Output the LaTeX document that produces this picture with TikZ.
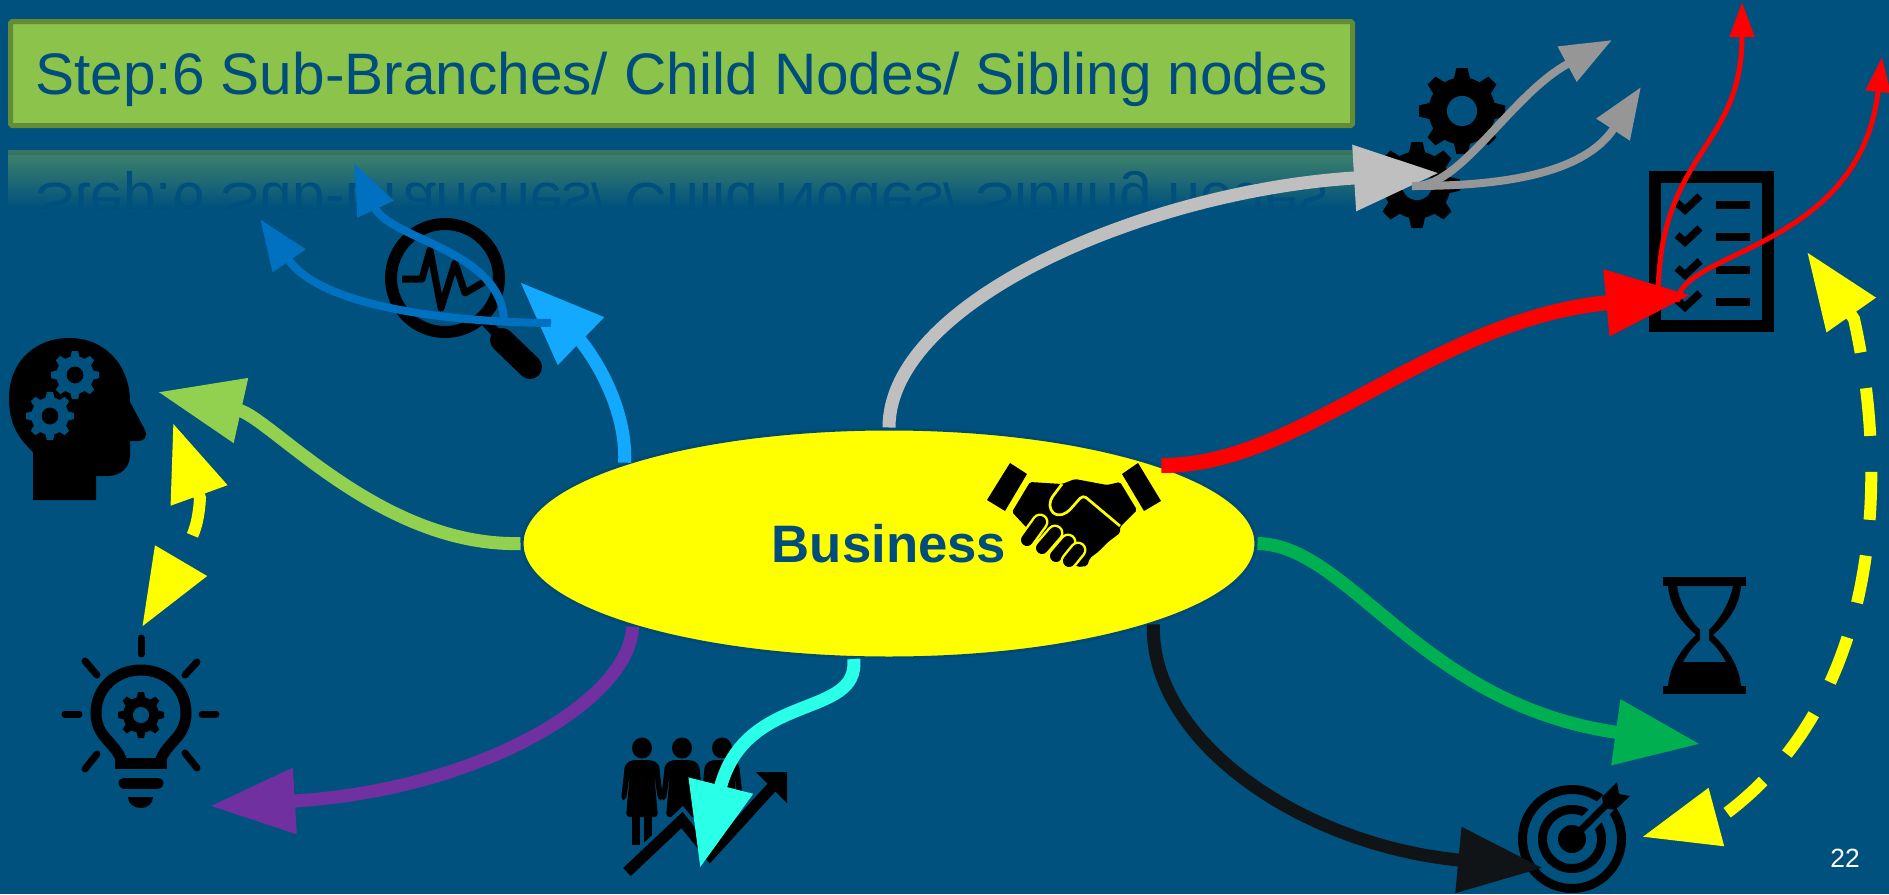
\documentclass[tikz,border=0pt]{standalone}
\usepackage{fontspec}
\setmainfont{Liberation Sans}
\usetikzlibrary{shapes.geometric, arrows.meta, fadings}

\definecolor{slidebg}{HTML}{00517E}
\definecolor{titlefill}{HTML}{8BC34B}
\definecolor{titleedge}{HTML}{648B36}
\definecolor{echofill}{HTML}{42856A}
\definecolor{echoedge}{HTML}{3A7660}
\definecolor{titleink}{HTML}{004C7C}
\definecolor{rimblue}{HTML}{004A78}
\definecolor{topicyellow}{HTML}{FFFF00}
\definecolor{listred}{HTML}{FF0000}
\definecolor{seekblue}{HTML}{12A9FF}
\definecolor{twigblue}{HTML}{0070C0}
\definecolor{mindgreen}{HTML}{92D050}
\definecolor{bulbpurple}{HTML}{7030A0}
\definecolor{teamcyan}{HTML}{2AFFE8}
\definecolor{gearsilver}{HTML}{BFBFBF}
\definecolor{twiggray}{HTML}{969696}
\definecolor{timegreen}{HTML}{00B050}
\definecolor{aimblack}{HTML}{111417}

\tikzset{
  pics/gear/.style n args={2}{code={
    \fill[#1] (0,0) circle (0.78);
    \foreach \a in {0,45,...,315}
      \fill[#1, rotate=\a] (-0.2,0.7) -- (-0.13,1) -- (0.13,1) -- (0.2,0.7) -- cycle;
    \fill[#2] (0,0) circle (0.35);
  }},
  pics/person/.style={code={
    \fill (0,0) ellipse (10 and 10.5);
    \fill[rounded corners=1pt] (-10,12) -- (10,12) -- (17,16) -- (21,52) -- (16,52) -- (12,24) -- (16,69) -- (-16,69) -- (-12,24) -- (-16,52) -- (-21,52) -- (-17,16) -- cycle;
    \fill (-10,69) rectangle (-2,#1);
    \fill (2,69) rectangle (10,#1);
  }},
}

\begin{document}
\begin{tikzpicture}[x=0.1mm, y=-0.1mm]

        % Define styles for each type of node
        \tikzstyle{titlebox} = [rectangle, minimum width=134.2mm, minimum height=10.4mm, inner sep=0pt, text height=11.9pt, text depth=0pt, draw=titleedge, line width=0.5mm, fill=titlefill, text=titleink, font=\fontsize{16.66}{20}\selectfont]
        \tikzstyle{titleecho} = [inner sep=0pt, text height=0pt, text depth=11.9pt, text=titleink, font=\fontsize{16.66}{20}\selectfont]
        \tikzstyle{topic} = [ellipse, minimum width=73.4mm, minimum height=22.9mm, inner sep=0pt, draw=rimblue, line width=0.3mm, fill=topicyellow, text=titleink, font=\fontsize{15}{18}\selectfont\bfseries]
        \tikzstyle{pagemark} = [text=white, font=\fontsize{7.5}{9}\selectfont]

        % Define arrow styles
        \tikzstyle{bigarrow} = [line width=1.3mm, -{Triangle[length=8.5mm,width=6.3mm]}]
        \tikzstyle{subarrow} = [line width=0.8mm, -{Triangle[length=5.1mm,width=3.8mm]}]
        \tikzstyle{twigarrow} = [line width=0.5mm, listred, -{Triangle[length=3.5mm,width=2.4mm]}]
        \tikzstyle{loopbig} = [topicyellow, line width=1.2mm, dash pattern=on 4.8mm off 3.6mm, dash phase=0.6mm, {Triangle[length=7.7mm,width=5.7mm]}-{Triangle[length=7.7mm,width=5.7mm]}]
        \tikzstyle{loopsmall} = [topicyellow, line width=1.2mm, dash pattern=on 4.4mm off 10mm, {Triangle[length=7.7mm,width=5.7mm]}-{Triangle[length=7.7mm,width=5.7mm]}]

        \fill[slidebg] (0,0) rectangle (1889,894);
        \useasboundingbox (0,0) rectangle (1889,894);

        % Title and its reflection
        \node (stepTitle) [titlebox, rounded corners=0.5pt] at (681.5,73.5) {Step:6 Sub-Branches/ Child Nodes/ Sibling nodes};
        \begin{scope}
            \clip (8,150) rectangle (1355,208);
            \fill[echofill] (8,150) rectangle (1355,208);
            \fill[echoedge] (8,150) rectangle (1355,155);
            \node (stepEcho) [titleecho] at (681.5,204) {\scalebox{1}[-1]{Step:6 Sub-Branches/ Child Nodes/ Sibling nodes}};
            \fill[slidebg, path fading=north] (8,150) rectangle (1355,208);
        \end{scope}

        % Central node
        \node (business) [topic] at (889,543.5) {Business};

        % Handshake on the central node
        \fill (1010,463) -- (1027,474) -- (1005,511) -- (987,500) -- cycle;
        \fill (1138,463) -- (1161,501) -- (1144,511) -- (1122,474) -- cycle;
        \fill[rounded corners=0.5pt] (1030,482) -- (1062,484) -- (1075,479) -- (1107,485) -- (1120,482) -- (1137,510) -- (1120,527) -- (1120,533) -- (1108,542) -- (1098,552) -- (1090,558) -- (1087,566) -- (1078,567) -- (1060,555) -- (1040,540) -- (1025,526) -- (1012,512) -- cycle;
        \draw[topicyellow, line width=0.27mm, rounded corners=1.2pt] (1062,484) -- (1050,500) -- (1050,510) -- (1057,516) -- (1067,513) -- (1083,495) -- (1120,526);
        \foreach \xa/\ya/\xb/\yb in {1027/540/1040/522, 1042/548/1055/533, 1056/556/1068/542, 1069/561/1078/550} {
            \draw[topicyellow, line width=1.7mm, line cap=round] (\xa,\ya) -- (\xb,\yb);
            \draw[black, line width=1.2mm, line cap=round] (\xa,\ya) -- (\xb,\yb);
        }

        % Head with gears
        \fill (33,500) -- (33,452) .. controls (15,435) and (9,420) .. (9,398) .. controls (9,362) and (35,338) .. (69,338) .. controls (105,338) and (130,365) .. (130,402) -- (145,430) .. controls (148,438) and (143,441) .. (138,441) -- (130,441) -- (130,455) .. controls (130,468) and (120,476) .. (108,476) -- (96,476) -- (96,500) -- cycle;
        \pic[scale=24] at (75,375) {gear={slidebg}{black}};
        \pic[scale=24] at (50,416) {gear={slidebg}{black}};

        % Magnifier
        \draw[line width=1.2mm] (445,278) circle (54);
        \draw[line width=1mm] (486,322) -- (503,340);
        \draw[line width=2.4mm, line cap=round] (502,340) -- (530,367);
        \draw[line width=0.7mm, line join=round] (402,279) -- (422,279) -- (430,250) -- (441,308) -- (455,263) -- (465,293) -- (484,282);

        % Light bulb
        \draw[line width=1.1mm] (122,762) .. controls (116,742) and (96,738) .. (96,713) .. controls (96,688) and (116,670) .. (141,670) .. controls (166,670) and (186,688) .. (186,713) .. controls (186,738) and (166,742) .. (160,762);
        \draw[line width=1.1mm] (115,763) -- (167,763);
        \draw[line width=1.1mm, line cap=round] (124,783) -- (158,783);
        \fill (128,797) -- (153,797) .. controls (153,804) and (147,808) .. (141,808) .. controls (134,808) and (128,804) .. (128,797) -- cycle;
        \pic[scale=23] at (141,715) {gear={black}{slidebg}};
        \foreach \xa/\ya/\xb/\yb in {141/638/141/654, 65/714/79/714, 202/714/216/714, 85/661/97/675, 197/662/185/675, 97/754/85/769, 185/753/197/768} {
            \draw[line width=0.7mm, line cap=round] (\xa,\ya) -- (\xb,\yb);
        }

        % Team with rising line
        \pic at (642,748) {person=97};
        \pic at (682,748) {person=69};
        \pic at (722,748) {person=69};
        \draw[slidebg, line width=1.9mm] (627,872) -- (682,820) -- (710,855) -- (772,787);
        \draw[line width=1.1mm] (627,872) -- (682,820) -- (710,855) -- (772,787);
        \fill (756,772) -- (787,772) -- (787,803) -- cycle;

        % Gears
        \pic[scale=43] at (1462,111) {gear={black}{slidebg}};
        \pic[scale=43] at (1417,185) {gear={black}{slidebg}};

        % Checklist
        \draw[line width=1.2mm] (1655,177) rectangle (1768,326);
        \foreach \y in {203,235,268,300} {
            \draw[line width=0.75mm] (1677,\y) -- (1685,\y+7) -- (1700,\y-7);
            \fill (1716,\y-2) rectangle (1750,\y+6);
        }

        % Hourglass
        \fill (1663,577) rectangle (1746,586);
        \fill (1663,686) rectangle (1746,694);
        \fill[even odd rule] (1668,586) .. controls (1670,610) and (1685,625) .. (1696,635) .. controls (1682,648) and (1670,665) .. (1668,686) -- (1741,686) .. controls (1739,665) and (1727,648) .. (1713,635) .. controls (1724,625) and (1739,610) .. (1741,586) -- cycle
            (1677,586) .. controls (1680,605) and (1690,620) .. (1700,630) -- (1700,640) .. controls (1693,646) and (1688,653) .. (1683,662) -- (1726,662) .. controls (1721,653) and (1716,646) .. (1709,640) -- (1709,630) .. controls (1719,620) and (1729,605) .. (1733,586) -- cycle;

        % Target
        \draw[line width=0.9mm] (1572,839) circle (49.5);
        \draw[line width=0.9mm] (1572,839) circle (29.5);
        \draw[slidebg, line width=1.8mm] (1585,826) -- (1622,789);
        \fill (1572,839) circle (14);
        \draw[line width=0.7mm] (1572,839) -- (1610,801);
        \fill (1617,782) -- (1619,794) -- (1630,796) -- (1615,810) -- (1604,808) -- (1602,797) -- cycle;

        % Free ends of the arrows
        \coordinate (seekTip) at (520,282);
        \coordinate (mindTip) at (158,392);
        \coordinate (bulbTip) at (210,806);
        \coordinate (teamTip) at (700,868);
        \coordinate (gearTip) at (1439,173);
        \coordinate (listTip) at (1691,295);
        \coordinate (timeTip) at (1700,744);
        \coordinate (aimTip) at (1543,868);
        \coordinate (seekRoot) at (551,323);
        \coordinate (seekLow) at (260,219);
        \coordinate (seekFork) at (504,323);
        \coordinate (seekHigh) at (354,163);
        \coordinate (gearRoot) at (1412,186);
        \coordinate (gearHigh) at (1612,40);
        \coordinate (gearLow) at (1641,87);
        \coordinate (listRoot) at (1658,295);
        \coordinate (listHigh) at (1742,2);
        \coordinate (listFork) at (1677,302);
        \coordinate (listFar) at (1882,57);
        \coordinate (checkTip) at (1807,252);
        \coordinate (targetTip) at (1642,837);
        \coordinate (headTip) at (173,423);
        \coordinate (lampTip) at (142,627);

        % Arrows
        \draw [bigarrow, seekblue] (business.163) .. controls (627,400) and (585,345) .. (seekTip);
        \draw [bigarrow, mindgreen] (business.west) .. controls (380,547) and (270,417) .. (mindTip);
        \draw [bigarrow, bulbpurple] (business.198) .. controls (630,700) and (480,790) .. (bulbTip);
        \draw [bigarrow, teamcyan] (business.253) .. controls (860,720) and (745,690) .. (teamTip);
        \draw [bigarrow, gearsilver] (business.north) .. controls (889,300) and (1150,190) .. (gearTip);
        \draw [bigarrow, listred, line width=1.5mm] (business.16) .. controls (1300,467) and (1431,319) .. (listTip);
        \draw [bigarrow, timegreen] (business.east) .. controls (1350,545) and (1420,705) .. (timeTip);
        \draw [bigarrow, aimblack] (business.343) .. controls (1150,740) and (1300,845) .. (aimTip);

        % Sub-branches
        \draw [subarrow, twigblue] (seekRoot) .. controls (440,322) and (320,305) .. (seekLow);
        \draw [subarrow, twigblue] (seekFork) .. controls (504,250) and (390,240) .. (seekHigh);
        \draw [subarrow, twiggray] (gearRoot) .. controls (1460,190) and (1510,95) .. (gearHigh);
        \draw [subarrow, twiggray] (gearRoot) .. controls (1480,186) and (1580,180) .. (gearLow);
        \draw [twigarrow] (listRoot) .. controls (1660,150) and (1742,150) .. (listHigh);
        \draw [twigarrow] (listFork) .. controls (1680,250) and (1860,250) .. (listFar);

        % Dashed links between the icons
        \draw [loopbig] (checkTip) -- (1854,319) .. controls (1890,480) and (1880,700) .. (1724,815) -- (targetTip);
        \draw [loopsmall] (headTip) -- (200,498) .. controls (199,515) and (196,530) .. (190,540) -- (185,554) -- (lampTip);

        % Page number
        \node (pageNumber) [pagemark] at (1845,858.5) {22};

\end{tikzpicture}
\end{document}
